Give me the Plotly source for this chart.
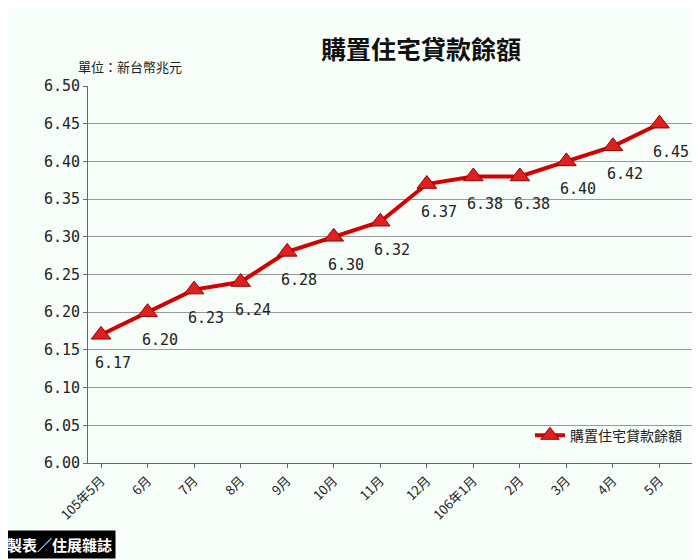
import plotly.graph_objects as go

months = ["105年5月","6月","7月","8月","9月","10月","11月","12月","106年1月","2月","3月","4月","5月"]
values = [6.17,6.20,6.23,6.24,6.28,6.30,6.32,6.37,6.38,6.38,6.40,6.42,6.45]
series_name = "購置住宅貸款餘額"
yticks = [6.00,6.05,6.10,6.15,6.20,6.25,6.30,6.35,6.40,6.45,6.50]

font = "Noto Sans CJK TC"
fig = go.Figure()
fig.add_trace(go.Scatter(x=months, y=values, mode="lines+markers", name=series_name,
    line=dict(color="#d40000", width=4),
    marker=dict(symbol="triangle-up", size=17, color="#e02020", line=dict(color="#900000", width=1))))
for m, v in zip(months, values):
    fig.add_annotation(x=m, y=v, text=f"{v:.2f}", showarrow=False, xshift=12, yshift=-28,
                       font=dict(family="DejaVu Sans Mono", size=15, color="#222"))
fig.update_layout(
    width=700, height=560, paper_bgcolor="#f7fdf9", plot_bgcolor="#f7fdf9",
    margin=dict(l=80, r=15, t=78, b=105),
    title=dict(text="<b>購置住宅貸款餘額</b>", x=0.59, y=0.94, xanchor="center",
               font=dict(family=font, size=25, color="#111")),
    showlegend=True,
    legend=dict(x=0.99, y=0.03, xanchor="right", yanchor="bottom", bgcolor="rgba(0,0,0,0)",
                font=dict(family=font, size=14, color="#222")),
    xaxis=dict(tickangle=-45, tickfont=dict(family=font, size=13, color="#222"), range=[-0.28, 12.72],
               showgrid=False, showline=True, linecolor="#666", ticks="outside", ticklen=4, tickcolor="#666"),
    yaxis=dict(range=[6.0, 6.5], tickvals=yticks, ticktext=[f"{t:.2f}" for t in yticks],
               tickfont=dict(family="DejaVu Sans Mono", size=15, color="#222"),
               showgrid=True, gridcolor="#999", gridwidth=1, showline=True, linecolor="#666",
               ticks="outside", ticklen=4, tickcolor="#666", zeroline=False),
)
fig.add_annotation(xref="paper", yref="paper", x=-0.14, y=-0.255, xanchor="left", yanchor="bottom",
                   text="<b>製表／住展雜誌</b>", showarrow=False, bgcolor="#000",
                   font=dict(family=font, size=15, color="#fff"), borderpad=3)
fig.add_annotation(xref="paper", yref="paper", x=-0.02, y=1.02, xanchor="left", yanchor="bottom",
                   text="單位：新台幣兆元", showarrow=False, font=dict(family=font, size=13, color="#222"))
fig.write_html("out.html")
